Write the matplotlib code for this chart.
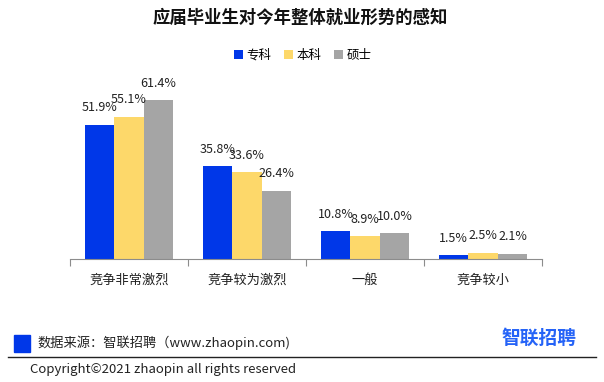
import matplotlib
matplotlib.use("Agg")
import matplotlib.pyplot as plt
import numpy as np

plt.rcParams['font.family'] = ['Noto Sans CJK SC', 'DejaVu Sans']

categories = ['竞争非常激烈', '竞争较为激烈', '一般', '竞争较小']
series_names = ['专科', '本科', '硕士']
zhuanke = [51.9, 35.8, 10.8, 1.5]
benke = [55.1, 33.6, 8.9, 2.5]
shuoshi = [61.4, 26.4, 10.0, 2.1]
colors = ['#0037E8', '#FDD86A', '#A5A5A5']

fig = plt.figure(figsize=(6.04, 3.82), dpi=100)
ax = fig.add_axes([70 / 604, 123 / 382, 472 / 604, 181 / 382])

x = np.arange(len(categories))
w = 0.25
for i, (vals, name, c) in enumerate(zip([zhuanke, benke, shuoshi], series_names, colors)):
    pos = x + (i - 1) * w
    ax.bar(pos, vals, width=w, color=c, label=name)
    for px, v in zip(pos, vals):
        ax.annotate(f'{v:.1f}%', (px, v), xytext=(0, 7.5), textcoords='offset points',
                    ha='center', va='bottom', fontsize=9, color='#222222')

ax.set_xlim(-0.5, len(categories) - 0.5)
ax.set_ylim(0, 70)
ax.set_yticks([])
for s in ['top', 'right', 'left']:
    ax.spines[s].set_visible(False)
ax.spines['bottom'].set_color('#8C8C8C')
ax.set_xticks(np.arange(len(categories) + 1) - 0.5)
ax.set_xticklabels([])
ax.tick_params(axis='x', length=5, color='#8C8C8C', direction='out')
for xi, cat in zip(x, categories):
    ax.text(xi, -0.12, cat, transform=ax.get_xaxis_transform(), ha='center', va='center',
            fontsize=9.5, color='#222222')

fig.text(0.497, 1 - 18 / 382, '应届毕业生对今年整体就业形势的感知', ha='center', va='center',
         fontsize=12.5, fontweight='bold', color='#111111')

leg = fig.legend(loc='center', bbox_to_anchor=(303 / 604, 1 - 55 / 382), ncol=3, frameon=False,
                 fontsize=9, handlelength=0.7, handleheight=0.7, handletextpad=0.3, columnspacing=1.0)

# footer
fig.patches.append(plt.Rectangle((14 / 604, 1 - 352 / 382), 16 / 604, 17 / 382,
                                 transform=fig.transFigure, color='#0037E8'))
fig.text(37 / 604, 1 - 343 / 382, '数据来源：智联招聘（www.zhaopin.com)', ha='left', va='center',
         fontsize=9.5, color='#222222')
fig.lines.append(plt.Line2D([8 / 604, 596 / 604], [1 - 357 / 382, 1 - 357 / 382],
                            transform=fig.transFigure, color='#222222', lw=1))
fig.text(30 / 604, 1 - 369 / 382, 'Copyright©2021 zhaopin all rights reserved', ha='left', va='center',
         fontsize=9.5, color='#222222')
fig.text(539 / 604, 1 - 338 / 382, '智联招聘', ha='center', va='center',
         fontsize=13.5, fontweight='bold', color='#2563F7')

fig.savefig('out.png', dpi=100)
